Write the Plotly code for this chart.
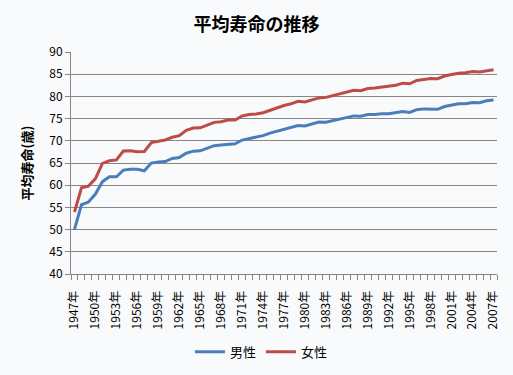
import plotly.graph_objects as go

years = list(range(1947, 2008))
male = [50.06, 55.6, 56.2, 58.0, 60.8, 61.9, 61.9, 63.41, 63.60, 63.59,
        63.24, 64.98, 65.21, 65.32, 66.03, 66.23, 67.21, 67.67, 67.74, 68.35,
        68.91, 69.05, 69.18, 69.31, 70.17, 70.50, 70.70, 71.16, 71.73, 72.15,
        72.69, 72.97, 73.46, 73.35, 73.79, 74.22, 74.20, 74.54, 74.78, 75.23,
        75.61, 75.54, 75.91, 75.92, 76.11, 76.09, 76.25, 76.57, 76.38, 77.01,
        77.19, 77.16, 77.10, 77.72, 78.07, 78.32, 78.36, 78.64, 78.56, 79.00,
        79.19]
female = [53.96, 59.4, 59.8, 61.5, 64.9, 65.5, 65.7, 67.69, 67.75, 67.54,
          67.60, 69.61, 69.88, 70.19, 70.79, 71.16, 72.34, 72.87, 72.92, 73.61,
          74.15, 74.30, 74.67, 74.66, 75.58, 75.94, 76.02, 76.31, 76.89, 77.35,
          77.95, 78.33, 78.89, 78.76, 79.13, 79.66, 79.78, 80.18, 80.48, 80.93,
          81.39, 81.30, 81.77, 81.90, 82.11, 82.22, 82.51, 82.98, 82.85, 83.59,
          83.82, 84.01, 83.99, 84.60, 84.93, 85.23, 85.33, 85.59, 85.52, 85.81,
          85.99]
label_years = list(range(1947, 2008, 3))
tick_labels = [f"{y}年" for y in label_years]
y_ticks = list(range(40, 95, 5))

FONT = "Noto Sans CJK JP"
bg = "#F9FAFC"
axis_col = "#868686"

fig = go.Figure()
fig.add_trace(go.Scatter(x=years, y=male, mode="lines", name="男性",
                         line=dict(color="#4A7EBB", width=3)))
fig.add_trace(go.Scatter(x=years, y=female, mode="lines", name="女性",
                         line=dict(color="#BE4B48", width=3)))

fig.update_layout(
    width=513, height=375,
    paper_bgcolor=bg, plot_bgcolor=bg,
    margin=dict(l=71, r=16, t=52, b=101, autoexpand=False),
    font=dict(family=FONT, color="#000000", size=11),
    title=dict(text="平均寿命の推移", x=0.5, xanchor="center",
               y=0.935, yanchor="middle",
               font=dict(family=FONT, size=18, color="#000000", weight=700)),
    showlegend=True,
    legend=dict(orientation="h", x=0.447, xanchor="center", y=-0.35,
                yanchor="middle", font=dict(family=FONT, size=13),
                itemwidth=30, bgcolor="rgba(0,0,0,0)"),
    xaxis=dict(
        range=[1946.5, 2007.5], tickmode="array", tickvals=label_years,
        ticktext=tick_labels, tickangle=-90, ticks="",
        ticklabelstandoff=11,
        showgrid=False, zeroline=False,
        showline=True, linecolor=axis_col, linewidth=1,
        tickfont=dict(family=FONT, size=12, color="#000000"),
        minor=dict(tickmode="array",
                   tickvals=[1946.5 + i for i in range(62)],
                   ticks="outside", ticklen=5, tickcolor=axis_col,
                   tickwidth=1, showgrid=False),
    ),
    yaxis=dict(
        range=[40, 90], tickmode="array", tickvals=y_ticks,
        ticks="outside", ticklen=5, tickcolor=axis_col,
        showgrid=True, gridcolor=axis_col, gridwidth=1,
        zeroline=False, showline=True, linecolor=axis_col, linewidth=1,
        tickfont=dict(family=FONT, size=12, color="#000000"),
        title=dict(text="平均寿命(歳)", standoff=13,
                   font=dict(family=FONT, size=13, color="#000000", weight=700)),
    ),
)

fig.write_html("out.html", config={"displayModeBar": False},
               post_script="document.body.style.margin='0';document.body.style.background='#F9FAFC';")
